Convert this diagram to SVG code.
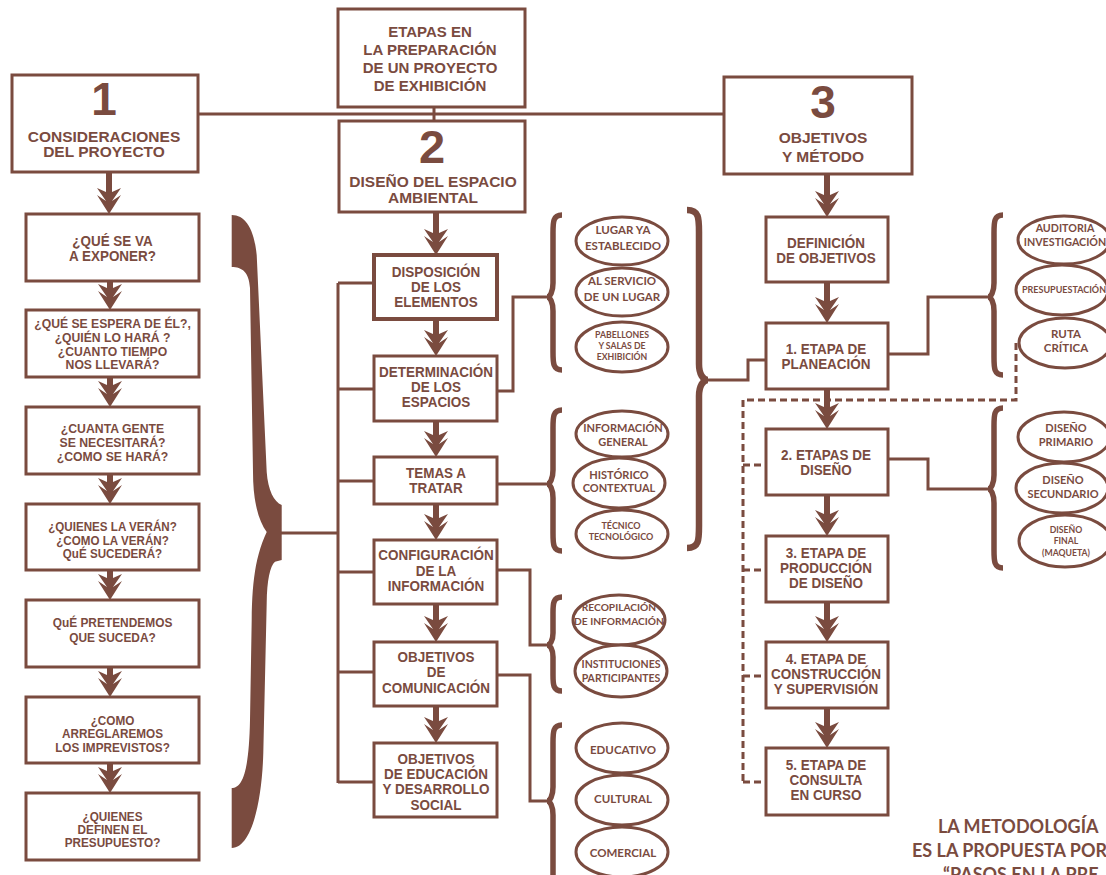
<svg xmlns="http://www.w3.org/2000/svg" width="1106" height="875" viewBox="0 0 1106 875">
<style>
.b{fill:#fff;stroke:#7a4b3f;stroke-width:3}
.b4{fill:#fff;stroke:#7a4b3f;stroke-width:4}
.t{font-family:"Liberation Sans",Arial,sans-serif;font-weight:bold;fill:#7a4b3f;text-anchor:middle}
.m{font-size:14.5px}
.e{font-family:Lato,"Open Sans",sans-serif;font-weight:bold;fill:#7a4b3f;text-anchor:middle}
.c{fill:none;stroke:#7a4b3f;stroke-width:3}
.s{fill:none;stroke:#7a4b3f;stroke-width:6}
.d{fill:none;stroke:#7a4b3f;stroke-width:3;stroke-dasharray:7 4}
.br{fill:none;stroke:#7a4b3f;stroke-width:5.5}
.f{fill:#7a4b3f}
</style>
<defs>
<path id="ah" class="f" d="M0,0 L12,-19 L3,-13 L12,-26 L3,-22 L3,-30 L-3,-30 L-3,-22 L-12,-26 L-3,-13 L-12,-19 Z"/>
</defs>
<rect width="1106" height="875" fill="#fff"/>

<g id="connectors">
<line class="c" x1="434" y1="107" x2="434" y2="121"/>
<line class="c" x1="198" y1="114" x2="724" y2="114"/>
<line class="c" x1="280" y1="533" x2="338" y2="533"/>
<line class="c" x1="338" y1="283" x2="338" y2="783"/>
<line class="c" x1="338" y1="283" x2="374" y2="283"/>
<line class="c" x1="338" y1="389" x2="374" y2="389"/>
<line class="c" x1="338" y1="481" x2="374" y2="481"/>
<line class="c" x1="338" y1="572" x2="374" y2="572"/>
<line class="c" x1="338" y1="672" x2="374" y2="672"/>
<line class="c" x1="338" y1="782" x2="374" y2="782"/>
<polyline class="c" points="497,391 513,391 513,297 547,297"/>
<polyline class="c" points="497,484 547,484"/>
<polyline class="c" points="497,570 530,570 530,645 547,645"/>
<polyline class="c" points="497,675 530,675 530,801 547,801"/>
<polyline class="c" points="708,380 748,380 748,360 766,360"/>
<polyline class="c" points="888,354 928,354 928,297 988,297"/>
<polyline class="c" points="888,459 928,459 928,489 988,489"/>
<polyline class="d" points="1016,343 1016,400 743,400 743,785"/>
<line class="d" x1="743" y1="465" x2="766" y2="465"/>
<line class="d" x1="743" y1="570" x2="766" y2="570"/>
<line class="d" x1="743" y1="676" x2="766" y2="676"/>
<line class="d" x1="743" y1="782" x2="766" y2="782"/>
<!-- arrows column 1 -->
<line class="s" x1="109" y1="172" x2="109" y2="186"/><use href="#ah" x="109" y="214"/>
<line class="s" x1="110" y1="281" x2="110" y2="282"/><use href="#ah" x="110" y="310"/>
<line class="s" x1="110" y1="377" x2="110" y2="379"/><use href="#ah" x="110" y="407"/>
<line class="s" x1="110" y1="474" x2="110" y2="476"/><use href="#ah" x="110" y="504"/>
<line class="s" x1="110" y1="570" x2="110" y2="572"/><use href="#ah" x="110" y="600"/>
<line class="s" x1="110" y1="667" x2="110" y2="669"/><use href="#ah" x="110" y="697"/>
<line class="s" x1="110" y1="763" x2="110" y2="765"/><use href="#ah" x="110" y="793"/>
<!-- arrows column 2 -->
<line class="s" x1="436" y1="212" x2="436" y2="227"/><use href="#ah" x="436" y="255"/>
<line class="s" x1="436" y1="319" x2="436" y2="328"/><use href="#ah" x="436" y="356"/>
<line class="s" x1="436" y1="421" x2="436" y2="429"/><use href="#ah" x="436" y="457"/>
<line class="s" x1="436" y1="504" x2="436" y2="512"/><use href="#ah" x="436" y="540"/>
<line class="s" x1="436" y1="604" x2="436" y2="614"/><use href="#ah" x="436" y="642"/>
<line class="s" x1="436" y1="706" x2="436" y2="715"/><use href="#ah" x="436" y="743"/>
<!-- arrows column 3 -->
<line class="s" x1="827" y1="174" x2="827" y2="189"/><use href="#ah" x="827" y="217"/>
<line class="s" x1="827" y1="282" x2="827" y2="295"/><use href="#ah" x="827" y="323"/>
<line class="s" x1="827" y1="389" x2="827" y2="401"/><use href="#ah" x="827" y="429"/>
<line class="s" x1="827" y1="495" x2="827" y2="508"/><use href="#ah" x="827" y="536"/>
<line class="s" x1="827" y1="602" x2="827" y2="614"/><use href="#ah" x="827" y="642"/>
<line class="s" x1="827" y1="708" x2="827" y2="720"/><use href="#ah" x="827" y="748"/>
</g>

<g id="braces">
<path class="f" d="M231.7,215 C245,215 254,228 256.7,255 L266.7,472 C268,490 274,502 281.7,505 L281.7,560 L275,561.7 C270,566 267,580 266.7,603 L263.3,753 C262,800 252,848 231.7,848 L231.7,788 C243,788 249,770 250,720 L251.7,620 C252,580 256,555 266.7,532 C258,520 253,500 253,472 L250,288 C249,272 242,267 231.7,267 Z"/>
<path class="br" d="M562,215 C553,215 553,222 553,233 L553,283 C553,292 550,297 547,297 C550,297 553,302 553,311 L553,352 C553,363 553,370 562,370"/>
<path class="br" d="M562,410 C553,410 553,417 553,428 L553,470 C553,479 550,484 547,484 C550,484 553,489 553,498 L553,533 C553,544 553,551 562,551"/>
<path class="br" d="M562,597 C553,597 553,604 553,613 L553,633 C553,641 550,645 547,645 C550,645 553,649 553,657 L553,675 C553,684 553,691 562,691"/>
<path class="br" d="M562,725 C553,725 553,732 553,743 L553,787 C553,796 550,801 547,801 C550,801 553,806 553,815 L553,872 C553,883 553,890 562,890"/>
<path class="br" style="stroke-width:6.5" d="M687,210 C699,210 699,218 699,232 L699,364 C699,374 703,380 708,380 C703,380 699,386 699,396 L699,526 C699,540 699,548 687,548"/>
<path class="br" d="M1003,215 C994,215 994,222 994,233 L994,283 C994,292 991,297 988,297 C991,297 994,302 994,311 L994,357 C994,368 994,375 1003,375"/>
<path class="br" d="M1003,408 C994,408 994,415 994,426 L994,475 C994,484 991,489 988,489 C991,489 994,494 994,503 L994,550 C994,561 994,568 1003,568"/>
</g>

<g id="title">
<rect class="b" x="338" y="9" width="187" height="98"/>
<text class="t" style="font-size:15px"><tspan x="430" y="37">ETAPAS EN</tspan><tspan x="430" y="55">LA PREPARACIÓN</tspan><tspan x="430" y="73">DE UN PROYECTO</tspan><tspan x="430" y="91">DE EXHIBICIÓN</tspan></text>
</g>
<g id="h1">
<rect class="b" x="12" y="75" width="186" height="97"/>
<text class="t" style="font-size:46px" x="104" y="115">1</text>
<text class="t" style="font-size:15.5px"><tspan x="104" y="141.5">CONSIDERACIONES</tspan><tspan x="104" y="157">DEL PROYECTO</tspan></text>
</g>
<g id="h2">
<rect class="b" x="339" y="121" width="186" height="91"/>
<text class="t" style="font-size:47px" x="432" y="163">2</text>
<text class="t" style="font-size:15.5px"><tspan x="433" y="187">DISEÑO DEL ESPACIO</tspan><tspan x="433" y="203">AMBIENTAL</tspan></text>
</g>
<g id="h3">
<rect class="b" x="724" y="77" width="188" height="97"/>
<text class="t" style="font-size:46px" x="823" y="118">3</text>
<text class="t" style="font-size:15.5px"><tspan x="823" y="143">OBJETIVOS</tspan><tspan x="823" y="161.5">Y MÉTODO</tspan></text>
</g>

<!-- column 1 -->
<g id="q1"><rect class="b" x="26" y="214" width="173" height="67"/>
<g transform="translate(112.5 0) scale(0.96 1)"><text class="t" style="font-size:14px"><tspan x="0" y="246">¿QUÉ SE VA</tspan><tspan x="0" y="260.7">A EXPONER?</tspan></text></g></g>
<g id="q2"><rect class="b" x="26" y="310" width="173" height="67"/>
<g transform="translate(112.5 0) scale(0.96 1)"><text class="t" style="font-size:12.7px"><tspan x="0" y="328">¿QUÉ SE ESPERA DE ÉL?,</tspan><tspan x="0" y="342">¿QUIÉN LO HARÁ ?</tspan><tspan x="0" y="356">¿CUANTO TIEMPO</tspan><tspan x="0" y="369.5">NOS LLEVARÁ?</tspan></text></g></g>
<g id="q3"><rect class="b" x="26" y="407" width="173" height="67"/>
<g transform="translate(112.5 0) scale(0.95 1)"><text class="t" style="font-size:12.9px"><tspan x="0" y="433">¿CUANTA GENTE</tspan><tspan x="0" y="447">SE NECESITARÁ?</tspan><tspan x="0" y="461">¿COMO SE HARÁ?</tspan></text></g></g>
<g id="q4"><rect class="b" x="26" y="504" width="173" height="66"/>
<g transform="translate(112.5 0) scale(0.93 1)"><text class="t" style="font-size:12.5px"><tspan x="0" y="531.5">¿QUIENES LA VERÁN?</tspan><tspan x="0" y="545">¿COMO LA VERÁN?</tspan><tspan x="0" y="558.5">QuÉ SUCEDERÁ?</tspan></text></g></g>
<g id="q5"><rect class="b" x="26" y="600" width="173" height="67"/>
<g transform="translate(112.5 0) scale(0.93 1)"><text class="t" style="font-size:12.8px"><tspan x="0" y="627.3">QuÉ PRETENDEMOS</tspan><tspan x="0" y="641.7">QUE SUCEDA?</tspan></text></g></g>
<g id="q6"><rect class="b" x="26" y="697" width="173" height="66"/>
<g transform="translate(112.5 0) scale(0.94 1)"><text class="t" style="font-size:12.5px"><tspan x="0" y="725">¿COMO</tspan><tspan x="0" y="738.3">ARREGLAREMOS</tspan><tspan x="0" y="751.7">LOS IMPREVISTOS?</tspan></text></g></g>
<g id="q7"><rect class="b" x="26" y="793" width="173" height="67"/>
<g transform="translate(112.5 0) scale(0.94 1)"><text class="t" style="font-size:12.5px"><tspan x="0" y="820.7">¿QUIENES</tspan><tspan x="0" y="834">DEFINEN EL</tspan><tspan x="0" y="847.3">PRESUPUESTO?</tspan></text></g></g>

<!-- column 2 -->
<g id="disp"><rect class="b4" x="374" y="255" width="123" height="64"/>
<g transform="translate(436 0) scale(0.93 1)"><text class="t m"><tspan x="0" y="277">DISPOSICIÓN</tspan><tspan x="0" y="291.8">DE LOS</tspan><tspan x="0" y="306.6">ELEMENTOS</tspan></text></g></g>
<g id="det"><rect class="b" x="374" y="356" width="123" height="65"/>
<g transform="translate(436 0) scale(0.93 1)"><text class="t m"><tspan x="0" y="377">DETERMINACIÓN</tspan><tspan x="0" y="392.2">DE LOS</tspan><tspan x="0" y="407.4">ESPACIOS</tspan></text></g></g>
<g id="temas"><rect class="b" x="374" y="457" width="123" height="47"/>
<g transform="translate(436 0) scale(0.93 1)"><text class="t m"><tspan x="0" y="478.5">TEMAS A</tspan><tspan x="0" y="493.5">TRATAR</tspan></text></g></g>
<g id="config"><rect class="b" x="374" y="540" width="123" height="64"/>
<g transform="translate(436 0) scale(0.93 1)"><text class="t m"><tspan x="0" y="560.5">CONFIGURACIÓN</tspan><tspan x="0" y="575.7">DE LA</tspan><tspan x="0" y="590.9">INFORMACIÓN</tspan></text></g></g>
<g id="objcom"><rect class="b" x="374" y="642" width="123" height="64"/>
<g transform="translate(436 0) scale(0.93 1)"><text class="t m"><tspan x="0" y="662">OBJETIVOS</tspan><tspan x="0" y="677.3">DE</tspan><tspan x="0" y="692.6">COMUNICACIÓN</tspan></text></g></g>
<g id="objedu"><rect class="b" x="374" y="743" width="123" height="74"/>
<g transform="translate(436 0) scale(0.93 1)"><text class="t m"><tspan x="0" y="764">OBJETIVOS</tspan><tspan x="0" y="779.2">DE EDUCACIÓN</tspan><tspan x="0" y="794.4">Y DESARROLLO</tspan><tspan x="0" y="809.6">SOCIAL</tspan></text></g></g>

<!-- column 2 ellipses -->
<g id="e1"><ellipse class="b" cx="622" cy="241" rx="46" ry="24"/><text class="e" style="font-size:11.5px"><tspan x="623" y="233.5">LUGAR YA</tspan><tspan x="623" y="249.5">ESTABLECIDO</tspan></text></g>
<g id="e2"><ellipse class="b" cx="622" cy="292" rx="46" ry="24"/><text class="e" style="font-size:11.5px"><tspan x="622" y="285">AL SERVICIO</tspan><tspan x="622" y="301">DE UN LUGAR</tspan></text></g>
<g id="e3"><ellipse class="b" cx="622" cy="347" rx="46" ry="25"/><text class="e" style="font-size:8.7px"><tspan x="622" y="337.5">PABELLONES</tspan><tspan x="622" y="348.5">Y SALAS DE</tspan><tspan x="622" y="360">EXHIBICIÓN</tspan></text></g>
<g id="e4"><ellipse class="b" cx="622" cy="434" rx="46" ry="23"/><text class="e" style="font-size:11px"><tspan x="623" y="431.5">INFORMACIÓN</tspan><tspan x="623" y="445.5">GENERAL</tspan></text></g>
<g id="e5"><ellipse class="b" cx="619" cy="483" rx="46" ry="25"/><text class="e" style="font-size:11px"><tspan x="619" y="478.5">HISTÓRICO</tspan><tspan x="619" y="492">CONTEXTUAL</tspan></text></g>
<g id="e6"><ellipse class="b" cx="622" cy="534" rx="46" ry="24"/><text class="e" style="font-size:9px"><tspan x="621" y="529.3">TÉCNICO</tspan><tspan x="621" y="540.3">TECNOLÓGICO</tspan></text></g>
<g id="e7"><ellipse class="b" cx="619" cy="620" rx="46" ry="25"/><text class="e" style="font-size:10.2px"><tspan x="619" y="611">RECOPILACIÓN</tspan><tspan x="619" y="625">DE INFORMACIÓN</tspan></text></g>
<g id="e8"><ellipse class="b" cx="621" cy="671" rx="46" ry="26"/><text class="e" style="font-size:10.5px"><tspan x="621" y="668">INSTITUCIONES</tspan><tspan x="621" y="681.5">PARTICIPANTES</tspan></text></g>
<g id="e9"><ellipse class="b" cx="622" cy="748" rx="46" ry="25"/><text class="e" style="font-size:11.5px" x="623" y="754">EDUCATIVO</text></g>
<g id="e10"><ellipse class="b" cx="622" cy="800" rx="46" ry="25"/><text class="e" style="font-size:11.5px" x="623" y="802.5">CULTURAL</text></g>
<g id="e11"><ellipse class="b" cx="622" cy="852" rx="46" ry="25"/><text class="e" style="font-size:11.5px" x="623" y="856.5">COMERCIAL</text></g>

<!-- column 3 -->
<g id="defobj"><rect class="b" x="766" y="217" width="122" height="65"/>
<g transform="translate(826 0) scale(0.93 1)"><text class="t m"><tspan x="0" y="248">DEFINICIÓN</tspan><tspan x="0" y="263">DE OBJETIVOS</tspan></text></g></g>
<g id="plan"><rect class="b" x="766" y="323" width="122" height="66"/>
<g transform="translate(826 0) scale(0.93 1)"><text class="t m"><tspan x="0" y="354">1. ETAPA DE</tspan><tspan x="0" y="369.5">PLANEACIÓN</tspan></text></g></g>
<g id="dis"><rect class="b" x="766" y="429" width="122" height="66"/>
<g transform="translate(826 0) scale(0.93 1)"><text class="t m"><tspan x="0" y="460">2. ETAPAS DE</tspan><tspan x="0" y="475">DISEÑO</tspan></text></g></g>
<g id="prod"><rect class="b" x="766" y="536" width="122" height="66"/>
<g transform="translate(826 0) scale(0.93 1)"><text class="t m"><tspan x="0" y="558">3. ETAPA DE</tspan><tspan x="0" y="573.2">PRODUCCIÓN</tspan><tspan x="0" y="588.4">DE DISEÑO</tspan></text></g></g>
<g id="const"><rect class="b" x="766" y="642" width="122" height="66"/>
<g transform="translate(826 0) scale(0.93 1)"><text class="t m"><tspan x="0" y="664">4. ETAPA DE</tspan><tspan x="0" y="679.2">CONSTRUCCIÓN</tspan><tspan x="0" y="694.4">Y SUPERVISIÓN</tspan></text></g></g>
<g id="consul"><rect class="b" x="766" y="748" width="122" height="67"/>
<g transform="translate(826 0) scale(0.93 1)"><text class="t m"><tspan x="0" y="770">5. ETAPA DE</tspan><tspan x="0" y="785.2">CONSULTA</tspan><tspan x="0" y="800.4">EN CURSO</tspan></text></g></g>

<!-- column 3 ellipses -->
<g id="f1"><ellipse class="b" cx="1064" cy="240" rx="46" ry="24"/><text class="e" style="font-size:10.7px"><tspan x="1065" y="232.3">AUDITORIA</tspan><tspan x="1065" y="245.7">INVESTIGACIÓN</tspan></text></g>
<g id="f2"><ellipse class="b" cx="1062" cy="290" rx="46" ry="25"/><text class="e" style="font-size:9px" x="1064" y="293.3">PRESUPUESTACIÓN</text></g>
<g id="f3"><ellipse class="b" cx="1065" cy="343" rx="46" ry="25"/><text class="e" style="font-size:11.5px"><tspan x="1066" y="337.5">RUTA</tspan><tspan x="1066" y="352">CRÍTICA</tspan></text></g>
<g id="f4"><ellipse class="b" cx="1064" cy="437" rx="46" ry="25"/><text class="e" style="font-size:11px"><tspan x="1066" y="432.3">DISEÑO</tspan><tspan x="1066" y="446.3">PRIMARIO</tspan></text></g>
<g id="f5"><ellipse class="b" cx="1062" cy="488" rx="46" ry="25"/><text class="e" style="font-size:11px"><tspan x="1063" y="484">DISEÑO</tspan><tspan x="1063" y="498">SECUNDARIO</tspan></text></g>
<g id="f6"><ellipse class="b" cx="1065" cy="541" rx="46" ry="26"/><text class="e" style="font-size:8.7px"><tspan x="1066" y="533.3">DISEÑO</tspan><tspan x="1066" y="544">FINAL</tspan><tspan x="1066" y="555.5">(MAQUETA)</tspan></text></g>

<g id="note">
<text class="e" style="font-size:18px;text-anchor:start"><tspan x="938" y="833">LA METODOLOGÍA</tspan><tspan x="912" y="857">ES LA PROPUESTA POR</tspan><tspan x="943" y="881">“PASOS EN LA PRE</tspan></text>
</g>
</svg>
